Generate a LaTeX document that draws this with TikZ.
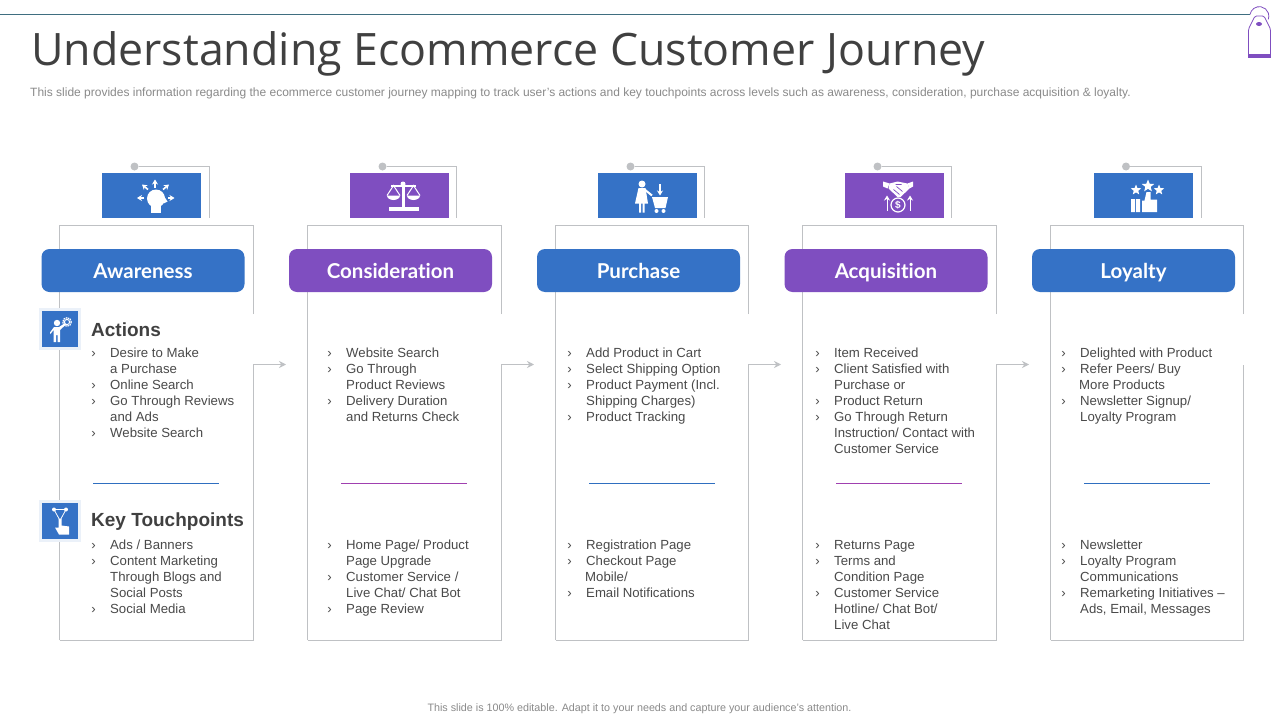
\documentclass[tikz,border=0pt]{standalone}
\usepackage{fontspec}
\setmainfont{Liberation Sans}
\newfontfamily\titlefont{Open Sans}
\newfontfamily\pillfont[Ligatures=NoCommon]{Lato}
\usetikzlibrary{arrows.meta,positioning,shapes.geometric}
\definecolor{Ink}{HTML}{404040}
\definecolor{BodyInk}{HTML}{4A4A4A}
\definecolor{MutedInk}{HTML}{8A8A8A}
\definecolor{LineSoft}{HTML}{BFC1C4}
\definecolor{TopTeal}{HTML}{3F6E80}
\definecolor{StageBlue}{HTML}{3572C6}
\definecolor{StagePurple}{HTML}{7F4EC0}
\definecolor{RuleBlue}{HTML}{2F6FC0}
\definecolor{RulePurple}{HTML}{A040B0}
\newcommand{\bul}{\llap{›\hspace{14.5pt}}}
\newcommand{\pxfont}[2]{\fontsize{#1}{#2}\selectfont}
\tikzset{
  frameline/.style={draw=LineSoft,line width=1pt},
  flowarrow/.style={draw=LineSoft,line width=1pt,-{Stealth[length=7pt,width=7pt]}},
  dividerbar/.style={fill=#1,minimum width=126pt,minimum height=1pt,inner sep=0pt},
  iconbox/.style={fill=#1,minimum width=99pt,minimum height=45pt,inner sep=0pt},
  stagepill/.style={fill=#1,rounded corners=8pt,minimum width=203pt,minimum height=43pt,inner sep=0pt,
    text=white,text height=18pt,text depth=1.5pt,font=\pillfont\bfseries\pxfont{20.5}{24}},
  sidebox/.style={fill=StageBlue,draw=StageBlue!10,line width=3pt,minimum width=39pt,minimum height=39pt,inner sep=0pt},
  listtext/.style={anchor=north west,align=left,inner sep=0pt,text=BodyInk,font=\pxfont{13.2}{16}},
  sidehead/.style={anchor=west,inner sep=0pt,text=Ink,font=\bfseries\pxfont{19}{22}},
  pindot/.style={fill=LineSoft,circle,minimum size=8pt,inner sep=0pt},
  staricon/.style={fill=white,star,star points=5,star point ratio=2.3,minimum size=#1,inner sep=0pt},
  whitepen/.style={draw=white,line width=1.6pt,-{Stealth[length=5pt,width=6pt]}},
  headmark/.pic={
    \fill[white] (4.5,3) circle (9);
    \fill[white] (-1,8) rectangle (9,17);
    \fill[white] (12,0) -- (16,6) -- (12,8) -- cycle;
    \draw[whitepen] (3.5,-8) -- (3.5,-16);
    \draw[whitepen] (-3.5,-6) -- (-9.5,-11);
    \draw[whitepen] (11.5,-6) -- (17.5,-11);
    \draw[whitepen] (-7.5,2.5) -- (-14.5,2.5);
    \draw[whitepen] (16.5,2.5) -- (23,2.5);
  },
  scalemark/.pic={
    \fill[white] (-11,11.5) rectangle (19,15.5);
    \fill[white] (2,-11) rectangle (5,12);
    \fill[white] (3.5,-11.5) circle (2.5);
    \fill[white] (-9,-11) rectangle (16,-9);
    \draw[white,line width=1pt] (-12.5,0) -- (-6,-10) -- (0.5,0) (7.5,0) -- (14,-10) -- (20.5,0);
    \fill[white] (-12.5,0) -- (0.5,0) arc[start angle=0,end angle=180,x radius=6.5,y radius=4.5] -- cycle;
    \fill[white] (7.5,0) -- (20.5,0) arc[start angle=0,end angle=180,x radius=6.5,y radius=4.5] -- cycle;
  },
  shopmark/.pic={
    \fill[white] (-5,-11.5) circle (3.5);
    \fill[white] (-8.5,-7.5) -- (-1.5,-7.5) -- (1,8) -- (-12,8) -- cycle;
    \fill[white] (-8,7) rectangle (-6,17) (-4.5,7) rectangle (-2.5,17);
    \draw[white,line width=2pt] (-3,-6.5) -- (5,0);
    \fill[white] (5,1.5) -- (21,1.5) -- (18.5,12.5) -- (8,12.5) -- cycle;
    \fill[white] (9.5,15.5) circle (2) (16.5,15.5) circle (2);
    \draw[whitepen] (13,-11.5) -- (13,0);
  },
  dealmark/.pic={
    \fill[white] (-11.5,-14) -- (-5,-12) -- (-7,-7) -- (-11.5,-9) -- cycle;
    \fill[white] (18.5,-14) -- (13,-12) -- (15,-7) -- (18.5,-9) -- cycle;
    \fill[white] (-5,-12) -- (3,-14) -- (13,-12) -- (15,-7) -- (6,1.5) -- (3,1.5) -- (-6,-7) -- cycle;
    \draw[StagePurple,line width=.7pt] (-1,-6) -- (5,-1) (2,-9) -- (8,-4) (1,-11) -- (7,-11);
    \draw[whitepen,line width=1pt] (-7.5,15) -- (-7.5,0);
    \draw[whitepen,line width=1pt] (15.5,15) -- (15.5,0);
    \draw[white,line width=1.2pt] (3.5,9.5) circle (7);
    \node[inner sep=0pt,text=white,font=\bfseries\pxfont{10}{10}] (dealcoin) at (3.5,9.5) {\$};
  },
  ratemark/.pic={
    \fill[white] (-12.5,3.5) rectangle (-8.5,16.5) (-7.5,3.5) rectangle (-3.5,16.5);
    \fill[white] (-1.5,5) -- (1,5) -- (3,-3.5) -- (7,-3.5) -- (7,4) -- (13.5,4) -- (13.5,16.5) -- (-1.5,16.5) -- cycle;
  },
  gearmark/.pic={
    \fill[white] (-3,-6) circle (3.2);
    \fill[white] (-6,-2) -- (-1,-2) -- (5,-6) -- (6,-4.5) -- (0,1) -- (0,13) -- (-2.5,13) -- (-2.5,6) -- (-4,6) -- (-4,13) -- (-6.5,13) -- (-6.5,1) -- (-9.5,5) -- (-10,3.5) -- cycle;
    \draw[white,line width=1.2pt,dash pattern=on 1.5pt off .8pt] (7,-7) circle (4.3);
    \draw[white,line width=1pt] (7,-7) circle (2.6);
  },
  touchmark/.pic={
    \draw[white,line width=.8pt] (-6,-11) -- (6,-11) -- (0,0) -- cycle;
    \fill[white] (-6,-11) circle (2) (6,-11) circle (2);
    \fill[white] (-1.5,-2) -- (1.5,-2) -- (1.5,5) -- (9,6) -- (9,14) -- (-1,14) -- (-5,7) -- (-1.5,7) -- cycle;
  }
}
\newcommand{\stageframe}[4]{%
  \coordinate (#1top) at (#2,225);
  \coordinate (#1bottom) at (#2,640);
  \coordinate (#1corner) at (#3,225);
  \coordinate (#1gap) at (#3,#4);
  \draw[frameline] (#1gap) -- (#1corner) -- (#1top) -- (#1bottom);
}
\begin{document}
\begin{tikzpicture}[x=1pt,y=-1pt]
  \useasboundingbox (0,0) rectangle (1280,720);
  \fill[white] (0,0) rectangle (1280,720);

  % top rule and tag
  \coordinate (ruleleft) at (0,14.5);
  \coordinate (ruleright) at (1250,14.5);
  \draw[TopTeal,line width=1pt] (ruleleft) -- (ruleright);
  \draw[StagePurple,line width=.8pt] (ruleright) arc[start angle=-170,end angle=20,radius=9.5];
  \draw[StagePurple,line width=.8pt,fill=white,rounded corners=1.5pt] (1248.5,54) -- (1248.5,29) -- (1255,16) -- (1264,16) -- (1270.5,29) -- (1270.5,54);
  \fill[StagePurple] (1248,54) rectangle (1271,58);
  \fill[StagePurple] (1259,24) ellipse (3 and 2);

  % dividers
  \node[dividerbar=RuleBlue] (ruleawareness) at (156,483.5) {};
  \node[dividerbar=RulePurple] (ruleconsideration) at (404,483.5) {};
  \node[dividerbar=RuleBlue] (rulepurchase) at (652,483.5) {};
  \node[dividerbar=RulePurple] (ruleacquisition) at (899,483.5) {};
  \node[dividerbar=RuleBlue] (ruleloyalty) at (1147,483.5) {};

  \node[anchor=west,inner sep=0pt,text=Ink,font=\titlefont\pxfont{44.7}{50}] (slidetitle) at (31,54) {Understanding Ecommerce Customer Journey};
  \node[anchor=west,inner sep=0pt,text=MutedInk,font=\pxfont{12}{14}] (slidesub) at (30,93.5) {This slide provides information regarding the ecommerce customer journey mapping to track user's actions and key touchpoints across levels such as awareness, consideration, purchase acquisition \& loyalty.};
  \node[inner sep=0pt,text=MutedInk,font=\pxfont{10.75}{12}] (slidefoot) at (639.5,708.5) {This slide is 100\% editable. Adapt it to your needs and capture your audience's attention.};

  % open frames
  \stageframe{awareness}{59.5}{253.5}{314}
  \stageframe{consideration}{307.5}{501.5}{314}
  \stageframe{purchase}{555.5}{748.5}{314}
  \stageframe{acquisition}{802.5}{996.5}{314}
  \stageframe{loyalty}{1050.5}{1243.5}{314}

  % frame bottoms running up into the arrows
  \coordinate (awarenessdrop) at (253.5,364.5);
  \coordinate (considerationdrop) at (501.5,364.5);
  \coordinate (purchasedrop) at (748.5,364.5);
  \coordinate (acquisitiondrop) at (996.5,364.5);
  \coordinate (loyaltydrop) at (1243.5,364.5);
  \coordinate (awarenesstip) at (286,364.5);
  \coordinate (considerationtip) at (534,364.5);
  \coordinate (purchasetip) at (781,364.5);
  \coordinate (acquisitiontip) at (1029,364.5);
  \draw[flowarrow] (awarenessbottom) -- (awarenessbottom -| awarenessdrop) -- (awarenessdrop) -- (awarenesstip);
  \draw[flowarrow] (considerationbottom) -- (considerationbottom -| considerationdrop) -- (considerationdrop) -- (considerationtip);
  \draw[flowarrow] (purchasebottom) -- (purchasebottom -| purchasedrop) -- (purchasedrop) -- (purchasetip);
  \draw[flowarrow] (acquisitionbottom) -- (acquisitionbottom -| acquisitiondrop) -- (acquisitiondrop) -- (acquisitiontip);
  \draw[frameline] (loyaltybottom) -- (loyaltybottom -| loyaltydrop) -- (loyaltydrop);

  % icon tabs
  \node[pindot] (pinawareness) at (134.5,166.5) {};
  \node[pindot] (pinconsideration) at (382.5,166.5) {};
  \node[pindot] (pinpurchase) at (630.5,166.5) {};
  \node[pindot] (pinacquisition) at (877.5,166.5) {};
  \node[pindot] (pinloyalty) at (1126,166.5) {};
  \coordinate (tabawareness) at (209.5,218);
  \coordinate (tabconsideration) at (456.5,218);
  \coordinate (tabpurchase) at (704.5,218);
  \coordinate (tabacquisition) at (951.5,218);
  \coordinate (tabloyalty) at (1201.5,218);
  \draw[frameline] (pinawareness) -| (tabawareness);
  \draw[frameline] (pinconsideration) -| (tabconsideration);
  \draw[frameline] (pinpurchase) -| (tabpurchase);
  \draw[frameline] (pinacquisition) -| (tabacquisition);
  \draw[frameline] (pinloyalty) -| (tabloyalty);

  \node[iconbox=StageBlue] (iconawareness) at (151.5,195.5) {};
  \node[iconbox=StagePurple] (iconconsideration) at (399.5,195.5) {};
  \node[iconbox=StageBlue] (iconpurchase) at (647,195.5) {};
  \node[iconbox=StagePurple] (iconacquisition) at (894.5,195.5) {};
  \node[iconbox=StageBlue] (iconloyalty) at (1143.5,195.5) {};
  \pic at (iconawareness) {headmark};
  \pic at (iconconsideration) {scalemark};
  \pic at (iconpurchase) {shopmark};
  \pic at (iconacquisition) {dealmark};
  \pic at (iconloyalty) {ratemark};
  \node[staricon=11pt] (starleft) at (1136,190) {};
  \node[staricon=13pt] (starmid) at (1148,186) {};
  \node[staricon=11pt] (starright) at (1159,190) {};

  % stage headers
  \node[stagepill=StageBlue] (pillawareness) at (143,270.5) {Awareness};
  \node[stagepill=StagePurple] (pillconsideration) at (390.5,270.5) {Consideration};
  \node[stagepill=StageBlue] (pillpurchase) at (638.5,270.5) {Purchase};
  \node[stagepill=StagePurple] (pillacquisition) at (886,270.5) {Acquisition};
  \node[stagepill=StageBlue] (pillloyalty) at (1133.5,270.5) {Loyalty};

  % row headings
  \node[sidebox] (sideactions) at (60,329) {};
  \node[sidebox] (sidetouch) at (60,520.5) {};
  \pic at (sideactions) {gearmark};
  \pic at (sidetouch) {touchmark};
  \node[sidehead] (headactions) at (91,329.5) {Actions};
  \node[sidehead] (headtouch) at (91,521.5) {Key Touchpoints};

  % lists
  \node[listtext] (actawareness) at (110,348) {\bul Desire to Make\\ a Purchase\\ \bul Online Search\\ \bul Go Through Reviews\\ and Ads\\ \bul Website Search};
  \node[listtext] (actconsideration) at (346,348) {\bul Website Search\\ \bul Go Through\\ Product Reviews\\ \bul Delivery Duration\\ and Returns Check};
  \node[listtext] (actpurchase) at (586,348) {\bul Add Product in Cart\\ \bul Select Shipping Option\\ \bul Product Payment (Incl.\\ Shipping Charges)\\ \bul Product Tracking};
  \node[listtext] (actacquisition) at (834,348) {\bul Item Received\\ \bul Client Satisfied with\\ Purchase or\\ \bul Product Return\\ \bul Go Through Return\\ Instruction/ Contact with\\ Customer Service};
  \node[listtext] (actloyalty) at (1080,348) {\bul Delighted with Product\\ \bul Refer Peers/ Buy\\ \hspace*{-1pt}More Products\\ \bul Newsletter Signup/\\ Loyalty Program};

  \node[listtext] (touchawareness) at (110,539.5) {\bul Ads / Banners\\ \bul Content Marketing\\ Through Blogs and\\ Social Posts\\ \bul Social Media};
  \node[listtext] (touchconsideration) at (346,539.5) {\bul Home Page/ Product\\ Page Upgrade\\ \bul Customer Service /\\ Live Chat/ Chat Bot\\ \bul Page Review};
  \node[listtext] (touchpurchase) at (586,539.5) {\bul Registration Page\\ \bul Checkout Page\\ \hspace*{-1pt}Mobile/\\ \bul Email Notifications};
  \node[listtext] (touchacquisition) at (834,540) {\bul Returns Page\\ \bul Terms and\\ Condition Page\\ \bul Customer Service\\ Hotline/ Chat Bot/\\ Live Chat};
  \node[listtext] (touchloyalty) at (1080,539.5) {\bul Newsletter\\ \bul Loyalty Program\\ Communications\\ \bul Remarketing Initiatives --\\ Ads, Email, Messages};
\end{tikzpicture}
\end{document}
